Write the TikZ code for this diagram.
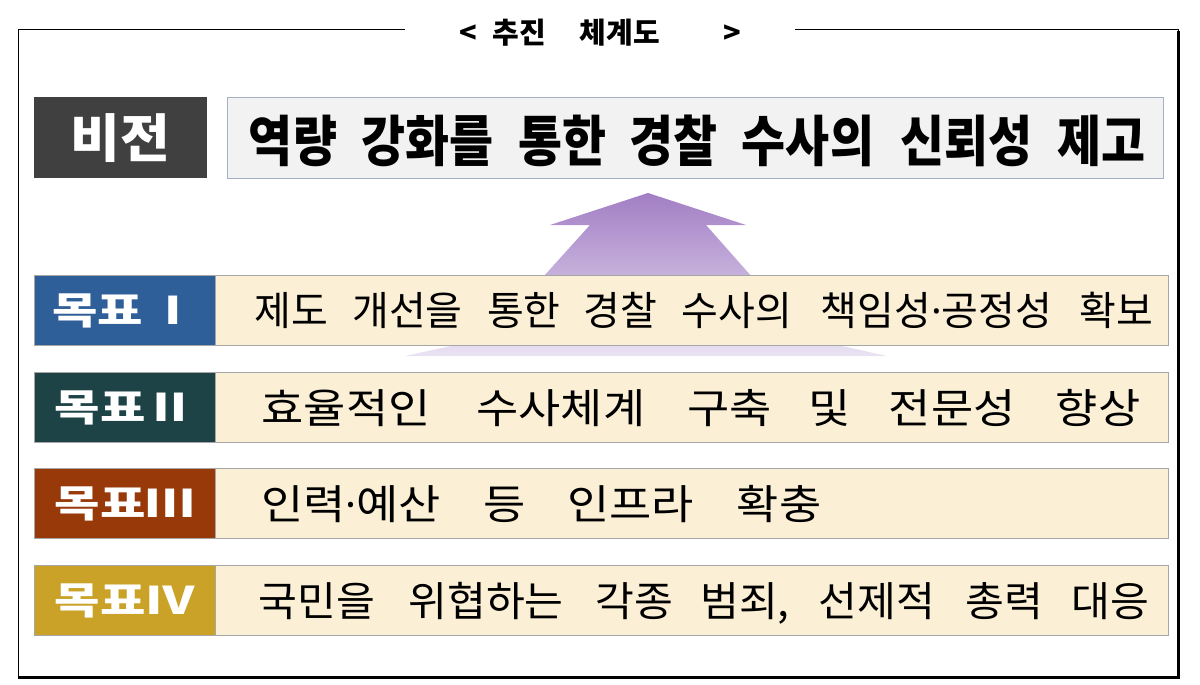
\documentclass[tikz,border=0pt]{standalone}
\usepackage{fontspec}
\setmainfont{Noto Sans CJK KR}
\newfontfamily\fvis{Noto Sans CJK KR}[FakeStretch=0.87]
\newfontfamily\fwide{Noto Sans CJK KR}[FakeStretch=1.12]
\newfontfamily\fnorm{Noto Sans CJK KR}[FakeStretch=1.03]
\newfontfamily\flab{Noto Sans CJK KR}[FakeStretch=1.3]
\newfontfamily\fbig{Noto Sans CJK KR}[FakeStretch=1.04]
\newfontfamily\fdot{Noto Sans}
\usetikzlibrary{calc}
\definecolor{visdark}{HTML}{404040}
\definecolor{visfill}{HTML}{F2F2F2}
\definecolor{visline}{HTML}{A3B1C6}
\definecolor{gI}{HTML}{2F5F98}
\definecolor{gII}{HTML}{1D4346}
\definecolor{gIII}{HTML}{98390A}
\definecolor{gIV}{HTML}{C9A227}
\definecolor{cream}{HTML}{FBEFD6}
\definecolor{rowline}{HTML}{A6A6A6}
\definecolor{arrtop}{HTML}{A27EC4}
\definecolor{arrbot}{HTML}{EAE3F3}
\newcommand{\mdot}{{\fdot ·}}
\begin{document}
\begin{tikzpicture}[x=1pt,y=-1pt,
  labbox/.style={anchor=north west, inner sep=0pt, draw=rowline, line width=1pt,
    minimum width=181pt, minimum height=70pt, text=white, font=\flab\bfseries\fontsize{38}{42}\selectfont},
  rowbox/.style={anchor=north west, inner sep=0pt, draw=rowline, line width=1.4pt,
    fill=cream, minimum width=953pt, minimum height=70pt},
  word/.style={anchor=base, inner sep=0pt},
  wa/.style={word, font=\fontsize{40}{46}\selectfont},
  wn/.style={word, font=\fnorm\fontsize{41}{46}\selectfont},
  ww/.style={word, font=\fwide\fontsize{41}{46}\selectfont},
  wv/.style={word, font=\fvis\bfseries\fontsize{55}{60}\selectfont},
  wt/.style={word, font=\bfseries\fontsize{29}{32}\selectfont},
  frameline/.style={draw=black, line width=1pt}
]
\useasboundingbox (0,0) rectangle (1200,685);
\fill[white] (0,0) rectangle (1200,685);

% frame
\draw[frameline] (405,30) -- (18,30) -- (18,677) -- (1178,677) -- (1178,30) -- (795,30);
\draw[black, line width=2.4pt] (18,677.6) -- (1178.6,677.6) -- (1178.6,31);

% title
\node[wt] (ttl1) at (468,44) {<};
\node[wt] (ttl2) at (519,44) {추진};
\node[wt] (ttl3) at (620,44) {체계도};
\node[wt] (ttl4) at (732,44) {>};

% upward arrow
\shade[top color=arrtop, bottom color=arrbot]
  (648,193) -- (746,225) -- (706,225) -- (806,338) -- (887,356) -- (405,356)
  -- (488,338) -- (590,225) -- (550,225) -- cycle;

% vision
\node[anchor=north west, inner sep=0pt, fill=visdark, minimum width=173pt, minimum height=81pt,
  text=white, font=\fbig\bfseries\fontsize{52}{56}\selectfont] (vis) at (34,97) {비전};
\node[anchor=north west, inner sep=0pt, fill=visfill, draw=visline, line width=1.2pt,
  minimum width=936pt, minimum height=81pt] (visbox) at (227,97) {};
\node[wv] (v1) at (293,161) {역량};
\node[wv] (v2) at (427.7,161) {강화를};
\node[wv] (v3) at (562.4,161) {통한};
\node[wv] (v4) at (673.2,161) {경찰};
\node[wv] (v5) at (808,161) {수사의};
\node[wv] (v6) at (966.7,161) {신뢰성};
\node[wv] (v7) at (1101.4,161) {제고};

% goal I
\node[rowbox] (r1) at (215,275) {};
\node[labbox, fill=gI] (l1) at (34,275) {목표\hspace{5pt}Ⅰ};
\node[wa] (a1) at (291.3,325) {제도};
\node[wa] (a2) at (407.5,325) {개선을};
\node[wa] (a3) at (523.8,325) {통한};
\node[wa] (a4) at (620.4,325) {경찰};
\node[wa] (a5) at (736.6,325) {수사의};
\node[wa] (a6) at (936.5,325) {책임성\mdot 공정성};
\node[wa] (a7) at (1116.7,325) {확보};

% goal II
\node[rowbox] (r2) at (215,372) {};
\node[labbox, fill=gII] (l2) at (34,372) {목표Ⅱ};
\node[ww] (b1) at (346,423) {효율적인};
\node[ww] (b2) at (560.8,423) {수사체계};
\node[ww] (b3) at (729.6,423) {구축};
\node[ww] (b4) at (829.4,423) {및};
\node[ww] (b5) at (952.2,423) {전문성};
\node[ww] (b6) at (1098,423) {향상};

% goal III
\node[rowbox] (r3) at (215,468) {};
\node[labbox, fill=gIII] (l3) at (34,468) {목표Ⅲ};
\node[ww] (c1) at (351,519) {인력\mdot 예산};
\node[ww] (c2) at (504.7,519) {등};
\node[ww] (c3) at (630.4,519) {인프라};
\node[ww] (c4) at (779.1,519) {확충};

% goal IV
\node[rowbox] (r4) at (215,565) {};
\node[labbox, fill=gIV] (l4) at (34,565) {목표Ⅳ};
\node[wn] (d1) at (317,616) {국민을};
\node[wn] (d2) at (486,616) {위협하는};
\node[wn] (d3) at (634,616) {각종};
\node[wn] (d4) at (745,616) {범죄,};
\node[wn] (d5) at (877,616) {선제적};
\node[wn] (d6) at (1004,616) {총력};
\node[wn] (d7) at (1110,616) {대응};
\end{tikzpicture}
\end{document}
